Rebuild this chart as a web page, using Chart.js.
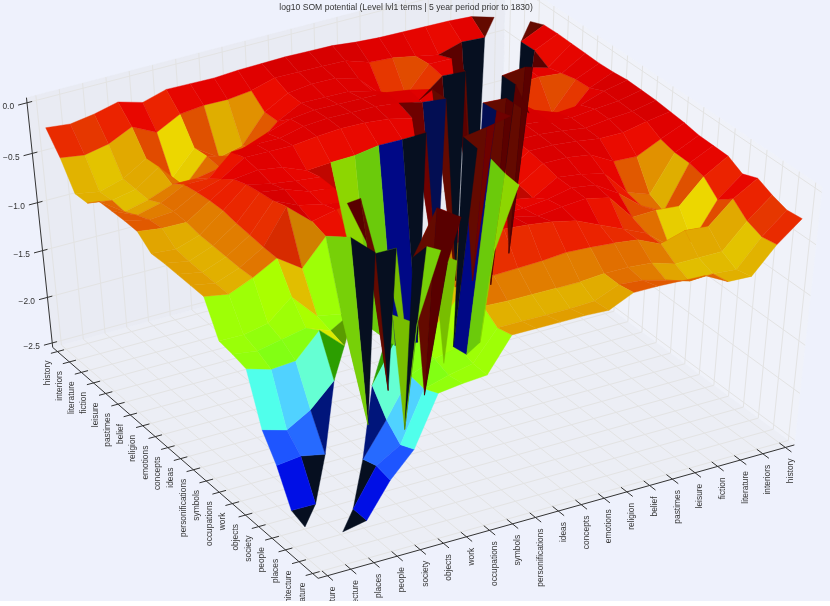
<!DOCTYPE html>
<html><head><meta charset="utf-8">
<style>html,body{margin:0;padding:0;background:#fff}canvas{display:block;background:#eef1fc}</style>
<script src="https://cdn.jsdelivr.net/npm/chart.js@4/dist/chart.umd.min.js"></script>
</head><body><canvas id="c" width="830" height="601"></canvas>
<script>
const categories=["history","interiors","literature","fiction","leisure","pastimes","belief","religion","emotions","concepts","ideas","personifications","symbols","occupations","work","objects","society","people","places","architecture","nature"];
const zTicks=[0,-0.5,-1,-1.5,-2,-2.5];
const zTickLabels=["0.0","−0.5","−1.0","−1.5","−2.0","−2.5"];
// log10 potential, upper triangle: row p holds columns p+1..20; the matrix is symmetric and its diagonal is empty
const row00=[-.25,-.19,-.18,-.18,-.18,-.18,-.17,-.15,-.15,-.15,-.16,-.17,-.19,-.19,-.19,-.26,-.2,-.26,-.3,-.28];
const row01=[-.3,-.29,-.36,-.32,-.28,-.27,-.2,-.2,-.2,-.2,-.27,-.3,-.3,-.33,-.45,-.34,-.45,-.5,-.47];
const row02=[-2.3,-.3,-.3,-.55,-.5,-.28,-.22,-.22,-.25,-.38,-.65,-.71,-.56,-.8,-.55,-.69,-.76,-.72];
const row03=[-.33,-.32,-.5,-.52,-.3,-.25,-.25,-.25,-.37,-.57,-.6,-.54,-.78,-.53,-.69,-.74,-.71];
const row04=[-2.3,-.3,-.25,-.22,-.22,-.22,-.22,-.25,-.33,-.42,-.55,-.6,-.6,-.69,-.75,-.59];
const row05=[-.29,-.27,-.22,-.2,-.2,-.2,-.22,-.28,-.28,-.3,-.5,-.5,-.62,-.68,-.58];
const row06=[-1.92,-.27,-.22,-.2,-.2,-.22,-.25,-.25,-.25,-.4,-.47,-.6,-.62,-.57];
const row07=[-.31,-.32,-.32,-.36,-.37,-.39,-.3,-.27,-.3,-.45,-.6,-.6,-.57];
const row08=[-2.27,-2.24,-2,-.96,-.35,-.33,-.3,-.25,-.44,-.62,-.7,-.68];
const row09=[-2.27,-1.1,-.8,-.35,-.33,-.25,-.22,-.46,-.62,-.71,-.67];
const row10=[-.96,-.96,-.4,-.35,-.3,-.2,-.47,-.62,-.71,-.67];
const row11=[-2.25,-.25,-.3,-.35,-.15,-.48,-.62,-.71,-.67];
const row12=[-.67,-.46,-.39,-.64,-.48,-.61,-.71,-.67];
const row13=[-2.25,-1.05,-1,-.75,-.95,-1,-1];
const row14=[-.9,-1.04,-.95,-1,-1.05,-1.02];
const row15=[-1.08,-.86,-1.1,-1.12,-1.05];
const row16=[-1.25,-1.48,-1.62,-1.55];
const row17=[-1.82,-1.77,-1.8];
const row18=[-2.15,-2.15];
const row19=[-2.2];
const upperRows=[row00,row01,row02,row03,row04,row05,row06,row07,row08,row09,row10,row11,row12,row13,row14,row15,row16,row17,row18,row19];
// colour level read from a cell where it differs from the height of its front corner
const colourLevels={"8,11":-1.1};

const N=categories.length, LO=-0.4, HI=20.4, ZLO=-2.55, ZHI=0.05;
const Z=(p,q)=>p===q?null:(p<q?upperRows[p][q-p-1]:upperRows[q][p-q-1]);
const level=(p,q)=>{const k=p<q?p+","+q:q+","+p;return k in colourLevels?colourLevels[k]:Z(p,q);};

// camera calibration: [world X, world Y, world Z, screen x, screen y]
const boxCamera=[[LO,HI,ZLO,54,350],[HI,HI,ZLO,315,577],[HI,LO,ZLO,795,442],[LO,HI,ZHI,28,95],[HI,LO,ZHI,823,192],[LO,LO,ZHI,503,-29],[LO,LO,ZLO,500,228],[10,HI,ZLO,179,460],[HI,10,ZLO,561,510],[LO,HI,-1,38,203]];
const meshCamera=[[0,20,-.28,46,128],[20,0,-.28,803,218],[0,1,-.25,493,17],[1,0,-.25,530,22],[19,20,-2.2,306,528],[20,19,-2.2,343,533],[18,20,-2.15,293,511],[20,18,-2.15,367,520],[0,20,-2.55,67,350],[20,0,-2.55,782,442],[20,20,-2.55,317,570],[0,0,-2.55,515,236]];

function solveCamera(a){
  const A=Array.from({length:11},()=>new Array(11).fill(0)),B=new Array(11).fill(0);
  const add=(r,v)=>{for(let i=0;i<11;i++){B[i]+=r[i]*v;for(let j=0;j<11;j++)A[i][j]+=r[i]*r[j];}};
  a.forEach(([X,Y,W,u,v])=>{X/=20;Y/=20;W/=2.5;u/=800;v/=800;
    add([X,Y,W,1,0,0,0,0,-u*X,-u*Y,-u*W],u);
    add([0,0,0,0,X,Y,W,1,-v*X,-v*Y,-v*W],v);});
  for(let i=0;i<11;i++){let m=i;for(let k=i+1;k<11;k++)if(Math.abs(A[k][i])>Math.abs(A[m][i]))m=k;
    [A[i],A[m]]=[A[m],A[i]];[B[i],B[m]]=[B[m],B[i]];
    for(let k=i+1;k<11;k++){const f=A[k][i]/A[i][i];for(let j=i;j<11;j++)A[k][j]-=f*A[i][j];B[k]-=f*B[i];}}
  const s=new Array(11);for(let i=10;i>=0;i--){let t=B[i];for(let j=i+1;j<11;j++)t-=A[i][j]*s[j];s[i]=t/A[i][i];}
  const f=(X,Y,W)=>{X/=20;Y/=20;W/=2.5;const d=s[8]*X+s[9]*Y+s[10]*W+1;
    return {x:800*(s[0]*X+s[1]*Y+s[2]*W+s[3])/d,y:800*(s[4]*X+s[5]*Y+s[6]*W+s[7])/d};};
  f.depth=(X,Y,W)=>s[8]*X/20+s[9]*Y/20+s[10]*W/2.5+1;
  return f;
}
const box=solveCamera(boxCamera), mesh=solveCamera(meshCamera);

const surfaceStops=[[-2.4,[0,0,190]],[-2.15,[0,15,230]],[-1.8,[30,85,255]],[-1.62,[80,210,255]],[-1.55,[80,255,235]],[-1.45,[110,255,200]],[-1.12,[130,255,20]],[-.95,[170,255,0]],[-.82,[240,225,0]],[-.75,[225,190,0]],[-.68,[225,165,0]],[-.62,[225,125,0]],[-.55,[225,75,0]],[-.45,[235,35,0]],[-.38,[235,12,0]],[-.3,[228,2,0]],[-.2,[215,0,0]],[0,[200,0,0]]];
const edgeStops=[[-2,[6,15,32]],[-1.85,[0,14,128]],[-1.6,[0,70,90]],[-1.3,[30,160,0]],[-1.1,[85,150,0]],[-.96,[120,190,0]],[-.88,[120,190,0]],[-.8,[100,30,0]],[-.7,[100,10,0]],[0,[100,10,0]]];
function ramp(st,z){if(z<=st[0][0])return st[0][1];for(let i=1;i<st.length;i++)if(z<=st[i][0]){const t=(z-st[i-1][0])/(st[i][0]-st[i-1][0]);return st[i-1][1].map((c,k)=>c+(st[i][1][k]-c)*t);}return st[st.length-1][1];}
const rgb=c=>`rgb(${c.map(v=>Math.round(v)).join(",")})`;
const relief=zs=>{let dz=0;for(let i=0;i<zs.length;i++)dz=Math.max(dz,Math.abs(zs[i]-zs[(i+1)%zs.length]));return dz;};
function cellColor(front,corners){
  if(corners.length===3)return rgb(ramp(edgeStops,front));
  const c=ramp(surfaceStops,front),dz=relief(corners);
  const warm=front>-.8;
  const s=warm?(dz<.4?1:dz<.7?1-(dz-.4)*.83:Math.max(.4,.75-(dz-.7)*.27)):(dz<.7?1:Math.max(.72,1-(dz-.7)*.17));
  return rgb([c[0]*s,c[1]*s,c[2]*s*s]);
}

const polygon=(pts,color)=>({data:pts,polygon:true,backgroundColor:color,borderColor:color,showLine:false,pointRadius:0,clip:false});
const stroke=(pts,color,w)=>({data:pts,showLine:true,borderColor:color,borderWidth:w,pointRadius:0,fill:false,clip:false,tension:0});

const cells=[];
for(let p=0;p<N-1;p++)for(let q=0;q<N-1;q++){
  const nodes=[[p,q],[p,q+1],[p+1,q+1],[p+1,q]].filter(([a,b])=>a!==b);
  if(nodes.length<3)continue;
  const zs=nodes.map(([a,b])=>Z(a,b));
  let d=0;nodes.forEach(([a,b])=>d+=mesh.depth(a,b,Z(a,b)));
  // tall folds sit in front of the shallow faces, as in the reference
  const lift=relief(zs)>1.2?-10:0;
  cells.push({key:lift+d/nodes.length,ds:polygon(nodes.map(([a,b])=>mesh(a,b,Z(a,b))),cellColor(level(p+1,q+1),zs))});
}
cells.sort((a,b)=>a.key-b.key);

const AXIS="#333333",GRID="#e3e3e3";
const front=[],grid=[];
front.push(stroke([box(LO,HI,ZLO),box(LO,HI,ZHI)],AXIS,1));
front.push(stroke([box(LO,HI,ZLO),box(HI,HI,ZLO)],AXIS,1));
front.push(stroke([box(HI,HI,ZLO),box(HI,LO,ZLO)],AXIS,1));
const leftTicks=[],rightTicks=[],zAxisTicks=[];
categories.forEach((c,i)=>{
  front.push(stroke([box(i,HI-.3,ZLO),box(i,HI+.3,ZLO)],AXIS,1));leftTicks.push(box(i,HI,ZLO));
  front.push(stroke([box(HI-.4,i,ZLO),box(HI+.4,i,ZLO)],AXIS,1));rightTicks.push(box(HI,i,ZLO));
});
zTicks.forEach(z=>{front.push(stroke([box(LO,HI-.22,z),box(LO,HI+.38,z)],AXIS,1));zAxisTicks.push(box(LO,HI+.38,z));});
categories.forEach((c,i)=>{
  grid.push(stroke([box(i,LO,ZLO),box(i,HI,ZLO)],GRID,1));
  grid.push(stroke([box(LO,i,ZLO),box(HI,i,ZLO)],GRID,1));
  grid.push(stroke([box(LO,i,ZLO),box(LO,i,ZHI)],GRID,1));
  grid.push(stroke([box(i,LO,ZLO),box(i,LO,ZHI)],GRID,1));
});
zTicks.forEach(z=>{
  grid.push(stroke([box(LO,LO,z),box(LO,HI,z)],GRID,1));
  grid.push(stroke([box(LO,LO,z),box(HI,LO,z)],GRID,1));
});
const planes=[
  polygon([box(LO,LO,ZLO),box(LO,HI,ZLO),box(HI,HI,ZLO),box(HI,LO,ZLO)],"rgb(236,238,245)"),
  polygon([box(LO,LO,ZLO),box(LO,HI,ZLO),box(LO,HI,ZHI),box(LO,LO,ZHI)],"rgb(233,235,243)"),
  polygon([box(LO,LO,ZLO),box(HI,LO,ZLO),box(HI,LO,ZHI),box(LO,LO,ZHI)],"rgb(240,242,249)")
];
const datasets=[...front,...cells.map(c=>c.ds),...grid,...planes];

const polygonFill={id:"polygonFill",
 beforeDraw(chart){const t=chart.titleBlock;if(t&&!t.drawTitle){t.drawTitle=t.draw;t.draw=()=>{};}},
 beforeDatasetDraw(chart,args){
  const ds=chart.data.datasets[args.index];if(!ds.polygon)return;
  const ctx=chart.ctx,pts=args.meta.data;ctx.save();ctx.beginPath();
  pts.forEach((pt,i)=>i?ctx.lineTo(pt.x,pt.y):ctx.moveTo(pt.x,pt.y));ctx.closePath();
  ctx.fillStyle=ds.backgroundColor;ctx.fill();ctx.strokeStyle=ds.backgroundColor;ctx.lineWidth=.4;ctx.stroke();ctx.restore();
 },
 afterDatasetsDraw(chart){const t=chart.titleBlock;if(t&&t.drawTitle)t.drawTitle();}
};
const axisText={id:"axisText",afterDraw(chart){
  const ctx=chart.ctx,X=chart.scales.x,Y=chart.scales.y;ctx.save();
  ctx.fillStyle="#333";ctx.font="8.4px 'Liberation Sans'";
  const vert=(t,x,y)=>{ctx.save();ctx.translate(x,y);ctx.rotate(-Math.PI/2);ctx.textAlign="right";ctx.textBaseline="middle";ctx.fillText(t,0,0);ctx.restore();};
  categories.forEach((c,i)=>{
    vert(c,X.getPixelForValue(leftTicks[i].x)-10,Y.getPixelForValue(leftTicks[i].y)+9);
    vert(c,X.getPixelForValue(rightTicks[i].x)+5,Y.getPixelForValue(rightTicks[i].y)+11);
  });
  ctx.textAlign="right";ctx.textBaseline="middle";
  zTickLabels.forEach((t,i)=>ctx.fillText(t,X.getPixelForValue(zAxisTicks[i].x)-4,Y.getPixelForValue(zAxisTicks[i].y)+2));
  ctx.restore();
}};
const TITLE_H=2+8.6*1.2;
new Chart(document.getElementById("c"),{type:"scatter",data:{datasets},plugins:[polygonFill,axisText],options:{
  responsive:false,animation:false,devicePixelRatio:1,
  layout:{padding:{right:18}},
  events:[],
  plugins:{legend:{display:false},tooltip:{enabled:false},
    title:{display:true,text:"log10 SOM potential (Level lvl1 terms | 5 year period prior to 1830)",color:"#333",font:{family:"'Liberation Sans'",size:8.6,weight:"normal",lineHeight:1.2},padding:{top:2,bottom:0}}},
  scales:{x:{type:"linear",display:false,min:0,max:812},y:{type:"linear",display:false,reverse:true,min:TITLE_H,max:601}}
}});
</script></body></html>
